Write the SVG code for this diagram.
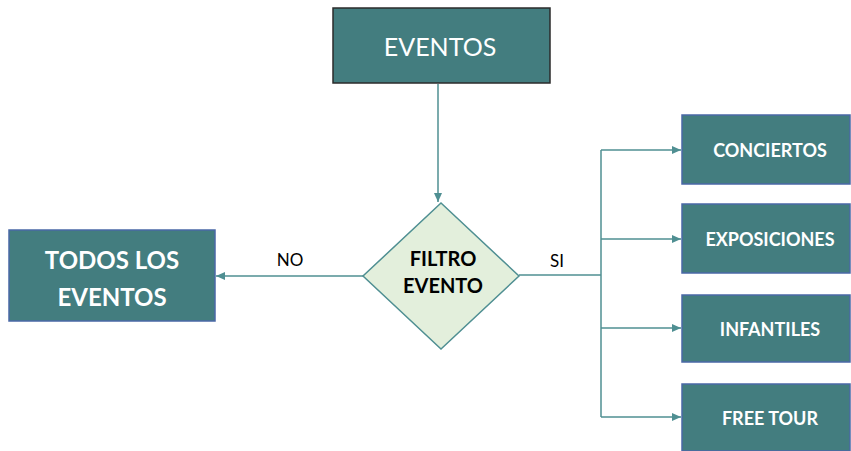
<svg xmlns="http://www.w3.org/2000/svg" width="851" height="451" viewBox="0 0 851 451">
<defs>
<style>
.box{fill:#437d7f;stroke:#4a68a6;stroke-width:1.5}
.wt{fill:#fff;font-family:Lato,"Open Sans",sans-serif;font-weight:bold;text-anchor:middle;dominant-baseline:central}
.ln{fill:none;stroke:#4f8f92;stroke-width:1.5}
.lbl{fill:#000;font-family:Lato,"Open Sans",sans-serif;font-size:17px;text-anchor:middle;dominant-baseline:central}
</style>
<marker id="ah" markerWidth="10" markerHeight="8" refX="9" refY="4" orient="auto" markerUnits="userSpaceOnUse">
<path d="M0,0 L9,4 L0,8 Z" fill="#4f8f92"/>
</marker>
</defs>
<g id="connectors">
<line class="ln" x1="438" y1="84" x2="438" y2="202" marker-end="url(#ah)"/>
<line class="ln" x1="363" y1="276" x2="216" y2="276" marker-end="url(#ah)"/>
<polyline class="ln" points="519,275 601,275"/>
<polyline class="ln" points="601,150 601,417"/>
<line class="ln" x1="601" y1="150" x2="681" y2="150" marker-end="url(#ah)"/>
<line class="ln" x1="601" y1="239" x2="681" y2="239" marker-end="url(#ah)"/>
<line class="ln" x1="601" y1="328" x2="681" y2="328" marker-end="url(#ah)"/>
<line class="ln" x1="601" y1="417" x2="681" y2="417" marker-end="url(#ah)"/>
<text class="lbl" x="290" y="259">NO</text>
<text class="lbl" x="557" y="260">SI</text>
</g>
<g id="eventos">
<rect x="333" y="8" width="217" height="75" fill="#437d7f" stroke="#2b2b2b" stroke-width="1.5"/>
<text class="wt" x="440" y="46" font-size="25" style="font-weight:normal">EVENTOS</text>
</g>
<g id="filtro">
<polygon points="441,203 519,276 441,349 363,276" fill="#e3efdc" stroke="#4f8f92" stroke-width="1.5"/>
<text x="443" y="258" font-family="Lato,'Open Sans',sans-serif" font-weight="bold" font-size="20" text-anchor="middle" dominant-baseline="central">FILTRO</text>
<text x="443" y="285" font-family="Lato,'Open Sans',sans-serif" font-weight="bold" font-size="20" text-anchor="middle" dominant-baseline="central">EVENTO</text>
</g>
<g id="todos">
<rect class="box" x="9" y="230" width="206" height="91"/>
<text class="wt" x="112" y="259" font-size="24">TODOS LOS</text>
<text class="wt" x="112" y="296" font-size="24">EVENTOS</text>
</g>
<g id="conciertos">
<rect class="box" x="682" y="115" width="168" height="69"/>
<text class="wt" x="770" y="150" font-size="18">CONCIERTOS</text>
</g>
<g id="exposiciones">
<rect class="box" x="682" y="204" width="168" height="69"/>
<text class="wt" x="770" y="239" font-size="18">EXPOSICIONES</text>
</g>
<g id="infantiles">
<rect class="box" x="682" y="295" width="168" height="67"/>
<text class="wt" x="770" y="329" font-size="18">INFANTILES</text>
</g>
<g id="freetour">
<rect class="box" x="682" y="384" width="168" height="67"/>
<text class="wt" x="770" y="418" font-size="18">FREE TOUR</text>
</g>
</svg>
